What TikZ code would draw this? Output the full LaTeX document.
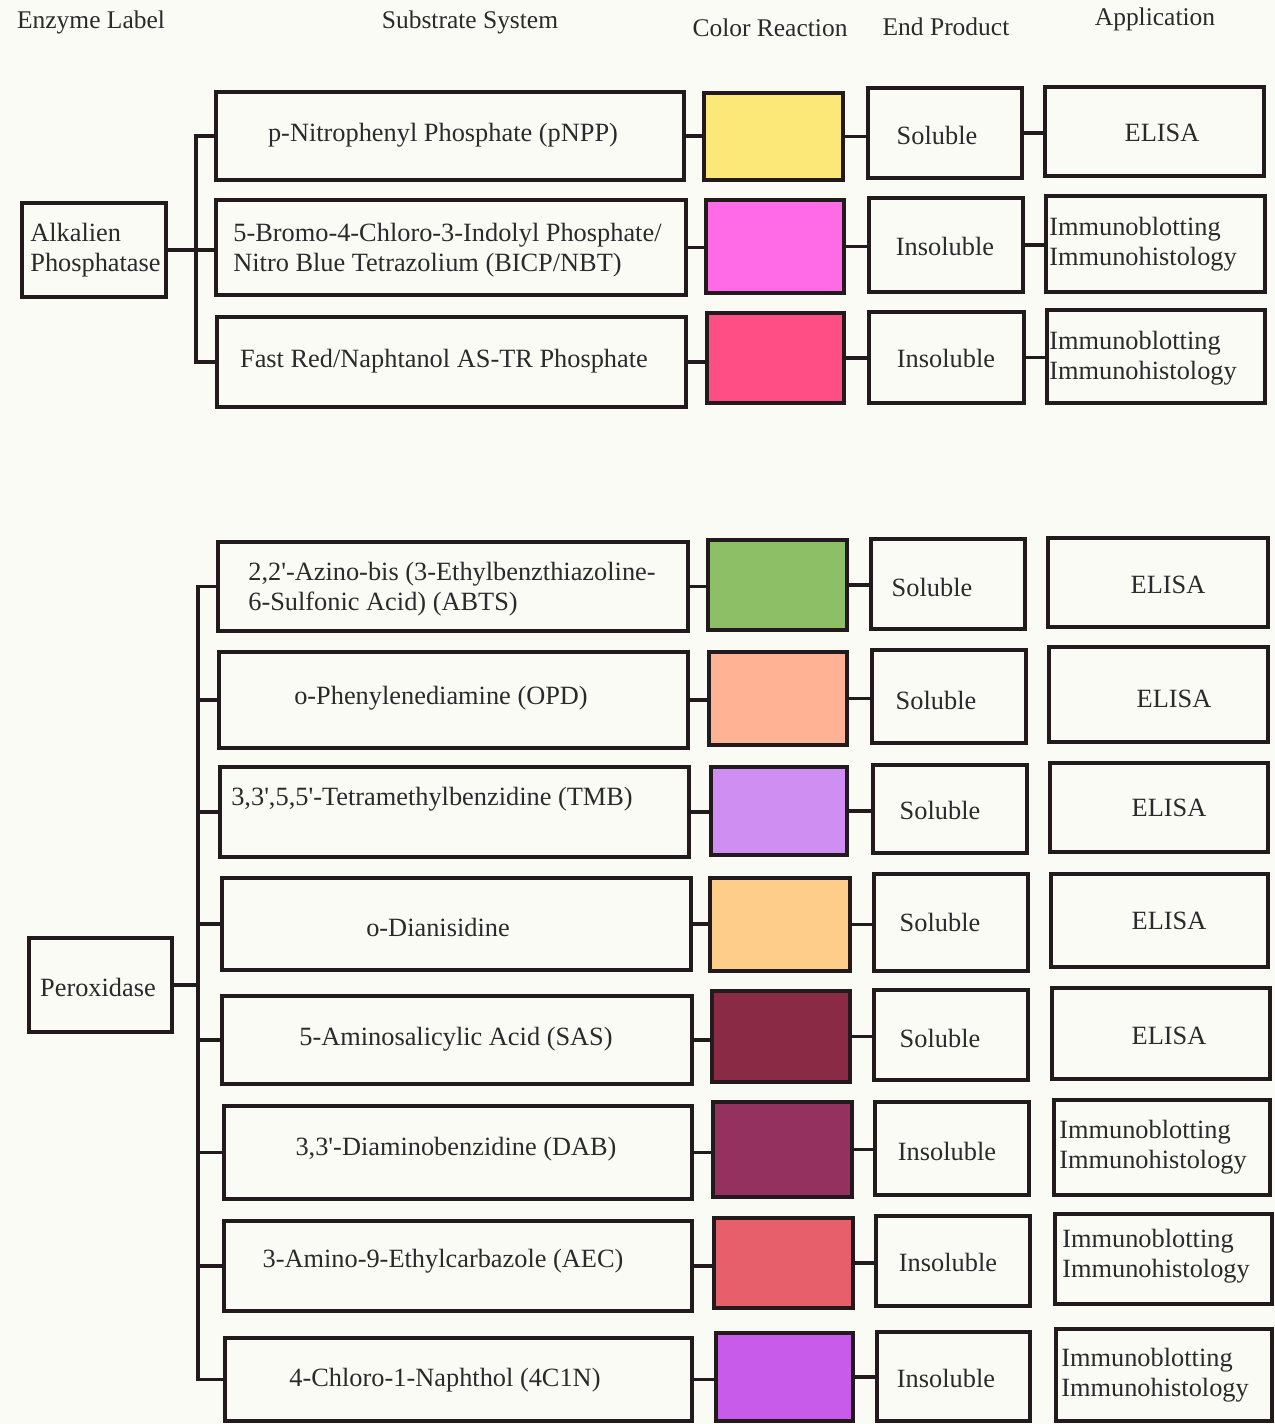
\documentclass[tikz,border=0pt]{standalone}
\usepackage{fontspec}
\setmainfont{Liberation Serif}
\definecolor{bg}{HTML}{FAFBF5}
\definecolor{lc}{HTML}{221A1C}
\definecolor{tc}{HTML}{2A2A2C}
\definecolor{cyel}{HTML}{FCE878}
\definecolor{cmag}{HTML}{FF6BE6}
\definecolor{cpnk}{HTML}{FF4D85}
\definecolor{cgrn}{HTML}{8CBF66}
\definecolor{cpch}{HTML}{FFB394}
\definecolor{clav}{HTML}{CE8EF2}
\definecolor{corg}{HTML}{FFCD8A}
\definecolor{cmar}{HTML}{8B2A45}
\definecolor{cdab}{HTML}{94315F}
\definecolor{caec}{HTML}{E85F6C}
\definecolor{cncn}{HTML}{C95BEA}
\newcommand\qs{\textquotesingle}
\tikzset{
  bx/.style={draw=lc, line width=2.2pt, inner sep=0pt, outer sep=0pt},
  tx/.style={text=tc, font=\fontsize{15}{16.8}\selectfont, inner sep=0pt},
  txl/.style={tx, align=left, anchor=west},
  hd/.style={text=tc, font=\fontsize{14.5}{16}\selectfont, inner sep=0pt},
  conn/.style={draw=lc, line width=2.2pt, line join=miter}
}
\newcommand\mkbox[6]{\node[bx,#6,minimum width={(#4-#2)*0.02cm},minimum height={(#5-#3)*0.02cm}] (#1) at ({(#2+#4)/2},{(#3+#5)/2}) {};}
\begin{document}
\begin{tikzpicture}[x=0.02cm,y=-0.02cm]
\fill[bg] (0,0) rectangle (1275,1424);
\useasboundingbox (0,0) rectangle (1275,1424);
% headers
\node[hd] (h1) at (91,22) {Enzyme Label};
\node[hd] (h2) at (470,22) {Substrate System};
\node[hd] (h3) at (770,28) {Color Reaction};
\node[hd] (h4) at (946,27) {End Product};
\node[hd] (h5) at (1155,19) {Application};
% ---------------- Alkaline phosphatase
\mkbox{ap}{22}{203}{166}{297}{}
\mkbox{s1}{216}{92}{684}{180}{}
\mkbox{s2}{216}{200}{686}{295}{}
\mkbox{s3}{217}{317}{686}{407}{}
\mkbox{c1}{704}{93}{843}{180}{fill=cyel}
\mkbox{c2}{706}{200}{844}{293}{fill=cmag}
\mkbox{c3}{707}{313}{844}{403}{fill=cpnk}
\mkbox{e1}{868}{88}{1022}{178}{}
\mkbox{e2}{869}{198}{1023}{292}{}
\mkbox{e3}{869}{312}{1024}{403}{}
\mkbox{a1}{1045}{87}{1264}{176}{}
\mkbox{a2}{1046}{196}{1265}{292}{}
\mkbox{a3}{1047}{310}{1265}{403}{}
\node[txl] (tap) at (30,250) {Alkalien\\Phosphatase};
\node[tx] (ts1) at (443,135) {p-Nitrophenyl Phosphate (pNPP)};
\node[txl] (ts2) at (233,250) {5-Bromo-4-Chloro-3-Indolyl Phosphate/\\Nitro Blue Tetrazolium (BICP/NBT)};
\node[tx] (ts3) at (444,361) {Fast Red/Naphtanol AS-TR Phosphate};
\node[tx] (te1) at (937,135) {Soluble};
\node[tx] (te2) at (945,246) {Insoluble};
\node[tx] (te3) at (946,358) {Insoluble};
\node[tx] (ta1) at (1162,133) {ELISA};
\node[txl] (ta2) at (1049,244) {Immunoblotting\\Immunohistology};
\node[txl] (ta3) at (1049,358) {Immunoblotting\\Immunohistology};
\coordinate (busA) at (196,250);
\draw[conn] (ap.east) -- (s2.west |- ap.east);
\draw[conn] (s1.west) -- (s1.west -| busA) -- (s3.west -| busA) -- (s3.west);
\foreach \i in {1,2,3}{
  \draw[conn] (s\i.east) -- (s\i.east -| c\i.west);
  \draw[conn] (c\i.east) -- (c\i.east -| e\i.west);
  \draw[conn] (e\i.east) -- (e\i.east -| a\i.west);
}
% ---------------- Peroxidase
\mkbox{pr}{29}{938}{172}{1032}{}
\mkbox{p1}{218}{542}{688}{631}{}
\mkbox{p2}{219}{652}{688}{748}{}
\mkbox{p3}{220}{767}{689}{857}{}
\mkbox{p4}{222}{878}{691}{970}{}
\mkbox{p5}{222}{996}{692}{1084}{}
\mkbox{p6}{224}{1106}{692}{1199}{}
\mkbox{p7}{224}{1221}{692}{1311}{}
\mkbox{p8}{225}{1338}{692}{1421}{}
\mkbox{q1}{708}{540}{847}{630}{fill=cgrn}
\mkbox{q2}{709}{652}{847}{745}{fill=cpch}
\mkbox{q3}{711}{767}{847}{855}{fill=clav}
\mkbox{q4}{710}{878}{850}{971}{fill=corg}
\mkbox{q5}{712}{991}{850}{1082}{fill=cmar}
\mkbox{q6}{713}{1102}{852}{1197}{fill=cdab}
\mkbox{q7}{714}{1218}{853}{1308}{fill=caec}
\mkbox{q8}{716}{1333}{853}{1421}{fill=cncn}
\mkbox{r1}{871}{539}{1025}{629}{}
\mkbox{r2}{872}{650}{1026}{743}{}
\mkbox{r3}{873}{765}{1027}{853}{}
\mkbox{r4}{874}{874}{1028}{971}{}
\mkbox{r5}{874}{990}{1028}{1080}{}
\mkbox{r6}{875}{1102}{1029}{1195}{}
\mkbox{r7}{876}{1216}{1030}{1306}{}
\mkbox{r8}{877}{1332}{1030}{1421}{}
\mkbox{g1}{1048}{538}{1268}{627}{}
\mkbox{g2}{1049}{647}{1268}{742}{}
\mkbox{g3}{1050}{763}{1268}{852}{}
\mkbox{g4}{1051}{874}{1268}{967}{}
\mkbox{g5}{1052}{988}{1270}{1079}{}
\mkbox{g6}{1054}{1100}{1270}{1195}{}
\mkbox{g7}{1055}{1214}{1272}{1304}{}
\mkbox{g8}{1056}{1329}{1272}{1421}{}
\node[tx] (tpr) at (98,987) {Peroxidase};
\node[txl] (tp1) at (248,589) {2,2\qs-Azino-bis (3-Ethylbenzthiazoline-\\6-Sulfonic Acid) (ABTS)};
\node[tx] (tp2) at (441,698) {o-Phenylenediamine (OPD)};
\node[tx] (tp3) at (432,799) {3,3\qs,5,5\qs-Tetramethylbenzidine (TMB)};
\node[tx] (tp4) at (438,927) {o-Dianisidine};
\node[tx] (tp5) at (456,1039) {5-Aminosalicylic Acid (SAS)};
\node[tx] (tp6) at (456,1149) {3,3\qs-Diaminobenzidine (DAB)};
\node[tx] (tp7) at (443,1261) {3-Amino-9-Ethylcarbazole (AEC)};
\node[tx] (tp8) at (445,1380) {4-Chloro-1-Naphthol (4C1N)};
\node[tx] (tr1) at (932,587) {Soluble};
\node[tx] (tr2) at (936,700) {Soluble};
\node[tx] (tr3) at (940,810) {Soluble};
\node[tx] (tr4) at (940,922) {Soluble};
\node[tx] (tr5) at (940,1038) {Soluble};
\node[tx] (tr6) at (947,1151) {Insoluble};
\node[tx] (tr7) at (948,1262) {Insoluble};
\node[tx] (tr8) at (946,1378) {Insoluble};
\node[tx] (tg1) at (1168,585) {ELISA};
\node[tx] (tg2) at (1174,699) {ELISA};
\node[tx] (tg3) at (1169,808) {ELISA};
\node[tx] (tg4) at (1169,921) {ELISA};
\node[tx] (tg5) at (1169,1036) {ELISA};
\node[txl] (tg6) at (1059,1147) {Immunoblotting\\Immunohistology};
\node[txl] (tg7) at (1062,1256) {Immunoblotting\\Immunohistology};
\node[txl] (tg8) at (1061,1375) {Immunoblotting\\Immunohistology};
\coordinate (busP) at (198,985);
\draw[conn] (pr.east) -- (pr.east -| busP);
\draw[conn] (p1.west) -- (p1.west -| busP) -- (p8.west -| busP) -- (p8.west);
\foreach \i in {2,...,7}{
  \draw[conn] (p\i.west -| busP) -- (p\i.west);
}
\foreach \i in {1,...,8}{
  \draw[conn] (p\i.east) -- (p\i.east -| q\i.west);
  \draw[conn] (q\i.east) -- (q\i.east -| r\i.west);
}
\end{tikzpicture}
\end{document}
